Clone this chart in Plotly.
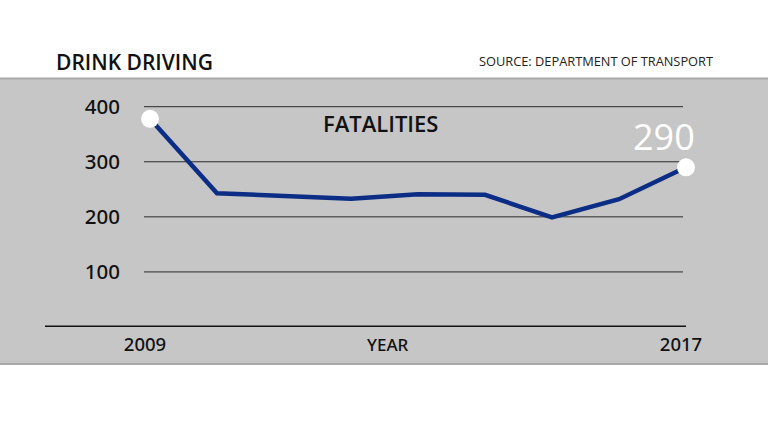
import plotly.graph_objects as go

years = [2009, 2010, 2011, 2012, 2013, 2014, 2015, 2016, 2017]
fatalities = [378, 243, 238, 233, 241, 240, 199, 232, 290]
y_ticks = [100, 200, 300, 400]
x_ticks = [2009, 2017]

W, H = 768, 432
FONT = "Open Sans"
PX_PER_YEAR = 67.0
PX_PER_UNIT = 0.5507

def px_x(p):
    return p / W

def px_y(p):
    return (H - p) / H

fig = go.Figure()

fig.add_trace(go.Scatter(
    x=years, y=fatalities, mode="lines",
    line=dict(color="#0b2d85", width=4.5),
    hoverinfo="skip", showlegend=False,
))
fig.add_trace(go.Scatter(
    x=[years[0], years[-1]], y=[fatalities[0], fatalities[-1]], mode="markers",
    marker=dict(color="white", size=18),
    cliponaxis=False, hoverinfo="skip", showlegend=False,
))

shapes = [
    dict(type="rect", xref="paper", yref="paper", x0=0, x1=1,
         y0=px_y(365), y1=px_y(78), fillcolor="#c6c6c6", line_width=0, layer="below"),
    dict(type="line", xref="paper", yref="paper", x0=0, x1=1,
         y0=px_y(78.5), y1=px_y(78.5), line=dict(color="#a9a9a9", width=2), layer="below"),
    dict(type="line", xref="paper", yref="paper", x0=0, x1=1,
         y0=px_y(364), y1=px_y(364), line=dict(color="#a9a9a9", width=2), layer="below"),
    dict(type="line", xref="paper", yref="y", x0=px_x(45), x1=px_x(686),
         y0=0, y1=0, line=dict(color="#111111", width=3), layer="below"),
]
for v in y_ticks:
    shapes.append(dict(type="line", xref="paper", yref="y", x0=px_x(144), x1=px_x(683),
                       y0=v, y1=v, line=dict(color="#2a2a2a", width=1), layer="below"))

annotations = [
    dict(text="DRINK DRIVING", xref="paper", yref="paper", x=px_x(54), y=px_y(62),
         xanchor="left", yanchor="middle", showarrow=False,
         font=dict(family=FONT, size=21, color="#111111", weight=600)),
    dict(text="SOURCE: DEPARTMENT OF TRANSPORT", xref="paper", yref="paper",
         x=px_x(715), y=px_y(61), xanchor="right", yanchor="middle", showarrow=False,
         font=dict(family=FONT, size=12.8, color="#222222")),
    dict(text="FATALITIES", xref="paper", yref="paper", x=px_x(380), y=px_y(123),
         xanchor="center", yanchor="middle", showarrow=False,
         font=dict(family=FONT, size=22, color="#111111", weight=600)),
    dict(text="YEAR", xref="paper", yref="paper", x=px_x(388), y=px_y(344),
         xanchor="center", yanchor="middle", showarrow=False,
         font=dict(family="Noto Sans", size=17, color="#111111", weight=500)),
    dict(text=str(fatalities[-1]), xref="x", yref="y", x=years[-1], y=fatalities[-1],
         xanchor="center", yanchor="bottom", xshift=-22, yshift=4, showarrow=False,
         font=dict(family=FONT, size=36, color="white")),
]

x_left_px, x_right_px = 45, 720
fig.update_layout(
    template="none",
    width=W, height=H,
    margin=dict(l=0, r=0, t=0, b=0, pad=0),
    paper_bgcolor="white", plot_bgcolor="rgba(0,0,0,0)",
    shapes=shapes, annotations=annotations,
    xaxis=dict(
        domain=[px_x(x_left_px), px_x(x_right_px)],
        range=[2009 - (150 - x_left_px) / PX_PER_YEAR, 2017 + (x_right_px - 686) / PX_PER_YEAR],
        tickvals=x_ticks, ticktext=[str(v) for v in x_ticks],
        showgrid=False, zeroline=False, showline=False, ticks="",
        tickfont=dict(family="Noto Sans", size=18.5, color="#111111", weight=500),
        ticklabelstandoff=4, ticklabelshift=-5,
        automargin=False,
    ),
    yaxis=dict(
        domain=[px_y(327), px_y(95)],
        range=[0, 400 + (106.7 - 95) / PX_PER_UNIT],
        tickvals=y_ticks, ticktext=[str(v) for v in y_ticks],
        showgrid=False, zeroline=False, showline=False, ticks="",
        tickfont=dict(family="Noto Sans", size=20.5, color="#111111", weight=500),
        anchor="free", position=px_x(144),
        ticklabelstandoff=24,
        automargin=False,
    ),
)

fig.write_html("out.html")
